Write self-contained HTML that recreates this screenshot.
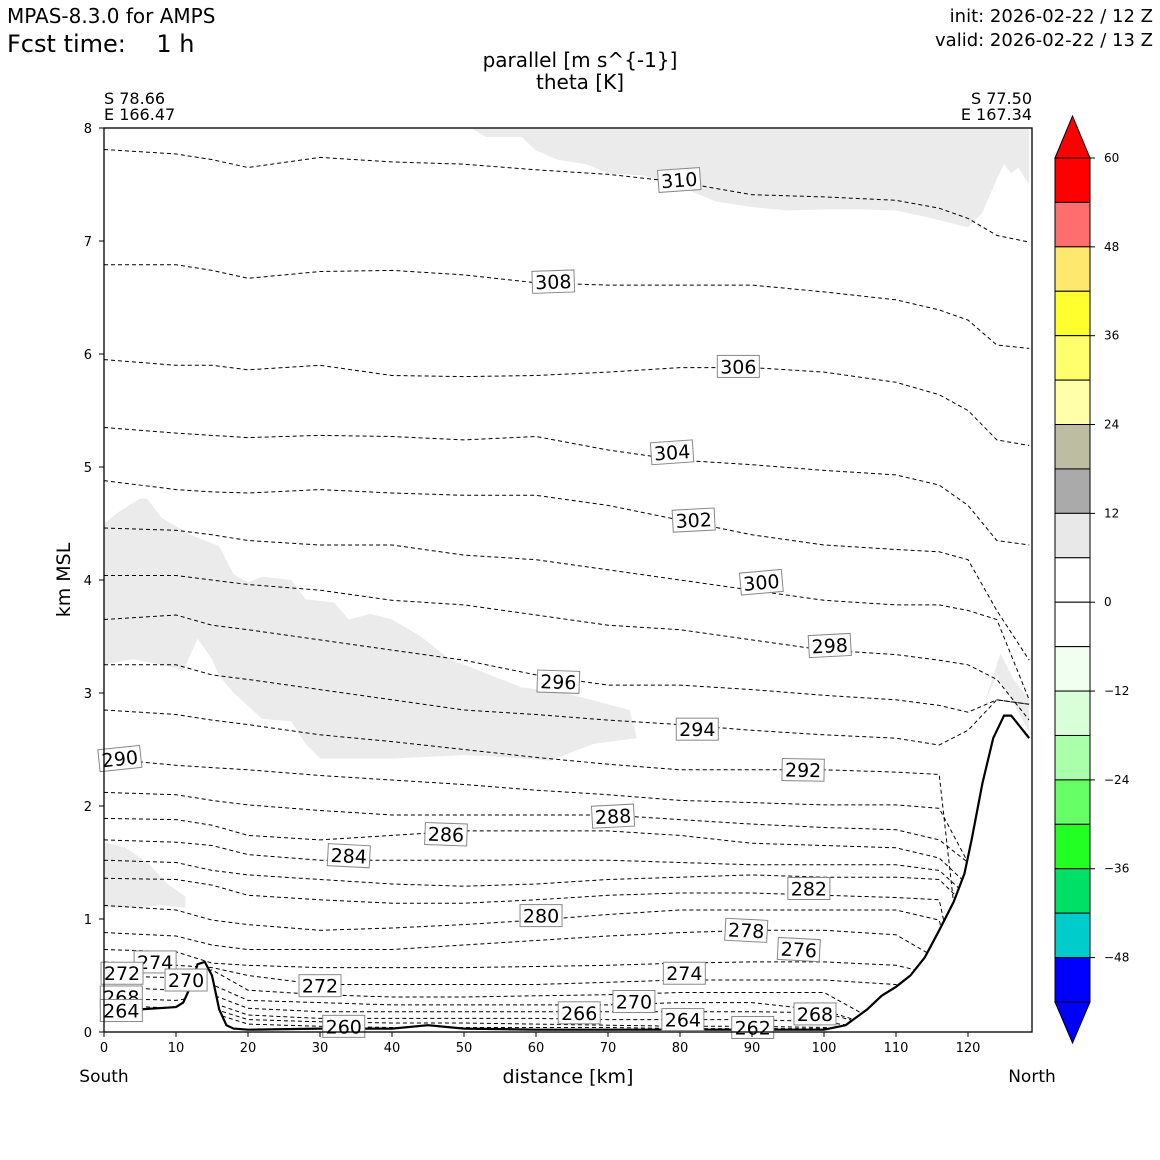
<!DOCTYPE html>
<html><head><meta charset="utf-8">
<style>
body{margin:0;background:#fff;}
svg{display:block;font-family:"DejaVu Sans","Liberation Sans",sans-serif;}
</style></head>
<body>
<svg id="chart" width="1160" height="1160" viewBox="0 0 1160 1160" xmlns="http://www.w3.org/2000/svg">
<rect width="1160" height="1160" fill="#fff"/>
<text x="7" y="23" font-size="20">MPAS-8.3.0 for AMPS</text>
<text x="7" y="52" font-size="24" xml:space="preserve">Fcst time:    1 h</text>
<text x="1153" y="22" font-size="18" text-anchor="end">init: 2026-02-22 / 12 Z</text>
<text x="1153" y="46" font-size="18" text-anchor="end">valid: 2026-02-22 / 13 Z</text>
<text x="580" y="67" font-size="20" text-anchor="middle">parallel [m s^{-1}]</text>
<text x="580" y="89" font-size="20" text-anchor="middle">theta [K]</text>
<text x="104" y="104" font-size="16">S 78.66</text>
<text x="104" y="120" font-size="16">E 166.47</text>
<text x="1032" y="104" font-size="16" text-anchor="end">S 77.50</text>
<text x="1032" y="120" font-size="16" text-anchor="end">E 167.34</text>
<text transform="translate(70,580) rotate(-90)" font-size="19" text-anchor="middle">km MSL</text>
<text x="568" y="1083" font-size="19" text-anchor="middle">distance [km]</text>
<text x="104" y="1082" font-size="17" text-anchor="middle">South</text>
<text x="1032" y="1082" font-size="17" text-anchor="middle">North</text>
<g id="plot"></g>
<g id="cbar"></g>
</svg>
<script>
// ---- data ----
const xKnots=[0,10,15,20,30,40,50,60,70,80,90,100,110,116,120,124,128.5];
const thetaLevels=[310,308,306,304,302,300,298,296,294,292,290,288,286,284,282,280,278,276,274,272,270,268,266,264,262,260];
const thetaHeights=[
[7.81,7.77,7.72,7.65,7.74,7.70,7.68,7.63,7.59,7.52,7.41,7.39,7.36,7.29,7.20,7.05,6.99],
[6.79,6.79,6.74,6.67,6.73,6.74,6.70,6.63,6.61,6.61,6.61,6.55,6.48,6.39,6.30,6.08,6.05],
[5.95,5.90,5.90,5.86,5.90,5.81,5.80,5.81,5.84,5.88,5.88,5.84,5.75,5.64,5.50,5.24,5.19],
[5.35,5.30,5.28,5.26,5.28,5.27,5.24,5.27,5.15,5.06,5.02,4.97,4.93,4.84,4.66,4.35,4.31],
[4.88,4.80,4.78,4.77,4.80,4.77,4.75,4.75,4.66,4.53,4.40,4.31,4.27,4.25,4.18,3.73,3.29],
[4.46,4.44,4.40,4.35,4.31,4.31,4.22,4.18,4.09,4.00,3.91,3.82,3.78,3.78,3.73,3.65,2.94],
[4.04,4.04,4.00,3.96,3.91,3.82,3.78,3.69,3.60,3.56,3.47,3.38,3.34,3.29,3.25,3.12,2.76],
[3.65,3.69,3.60,3.56,3.47,3.38,3.29,3.16,3.07,3.07,3.03,2.98,2.94,2.89,2.83,2.94,2.90],
[3.25,3.25,3.16,3.12,3.03,2.94,2.85,2.81,2.76,2.72,2.67,2.63,2.60,2.54,2.67,2.94,2.90],
[2.85,2.81,2.76,2.72,2.63,2.57,2.50,2.43,2.37,2.32,2.32,2.32,2.30,2.28,0,0,0],
[2.42,2.36,2.34,2.32,2.27,2.23,2.19,2.14,2.10,2.05,2.03,2.01,2.01,1.98,1.5,0,0],
[2.12,2.10,2.05,2.01,1.96,1.92,1.92,1.92,1.92,1.88,1.84,1.81,1.79,1.70,1.5,0,0],
[1.89,1.88,1.83,1.74,1.70,1.74,1.78,1.78,1.78,1.74,1.67,1.65,1.63,1.54,1.3,0,0],
[1.70,1.68,1.65,1.57,1.52,1.52,1.52,1.52,1.52,1.50,1.48,1.48,1.48,1.43,1.2,0,0],
[1.52,1.50,1.43,1.39,1.35,1.31,1.29,1.31,1.35,1.37,1.39,1.37,1.37,1.35,1.1,0,0],
[1.36,1.35,1.30,1.21,1.17,1.14,1.14,1.17,1.21,1.23,1.23,1.21,1.19,1.17,0,0,0],
[1.12,1.08,0.99,0.95,0.90,0.92,0.95,0.99,1.04,1.08,1.08,1.08,1.08,0.99,0,0,0],
[0.88,0.85,0.77,0.73,0.73,0.73,0.77,0.81,0.85,0.88,0.90,0.90,0.86,0.64,0,0,0],
[0.73,0.71,0.61,0.59,0.57,0.57,0.57,0.58,0.59,0.61,0.62,0.62,0.59,0.50,0,0,0],
[0.62,0.59,0.57,0.50,0.42,0.42,0.42,0.42,0.44,0.46,0.46,0.46,0.42,0,0,0,0],
[0.50,0.48,0.55,0.37,0.33,0.31,0.31,0.32,0.33,0.35,0.35,0.35,0,0,0,0,0],
[0.40,0.37,0.42,0.28,0.26,0.24,0.24,0.24,0.24,0.26,0.26,0.19,0,0,0,0,0],
[0.30,0.28,0.33,0.21,0.18,0.18,0.18,0.18,0.18,0.18,0.18,0.17,0,0,0,0,0],
[0.24,0.21,0.26,0.15,0.12,0.12,0.12,0.12,0.11,0.11,0.11,0.09,0,0,0,0,0],
[0.19,0.17,0.21,0.11,0.09,0.08,0.08,0.07,0.06,0.05,0.05,0.04,0,0,0,0,0],
[0.15,0.13,0.17,0.07,0.05,0.04,0.04,0.04,0.04,0.03,0.03,0.03,0,0,0,0,0]
];
const terrainX=[0,5,10,11,12,13,14,15,16,17,18,20,30,40,45,50,60,100,103,106,108,110,112,114,116,118,119.5,120.5,122,123.5,125,126,127,128.5];
const terrainZ=[0.16,0.2,0.22,0.26,0.4,0.6,0.62,0.5,0.2,0.06,0.03,0.02,0.03,0.03,0.06,0.03,0.02,0.02,0.06,0.2,0.32,0.4,0.5,0.66,0.9,1.15,1.4,1.7,2.2,2.6,2.8,2.8,2.72,2.6];
const shadeTopX=[51,53,58,60,63,67,70,75,80,85,90,95,100,105,110,115,120,122,124,125,126,127,128.5,128.5];
const shadeTopZ=[8,7.92,7.92,7.8,7.72,7.68,7.6,7.58,7.48,7.35,7.3,7.27,7.28,7.28,7.27,7.2,7.12,7.25,7.55,7.68,7.6,7.65,7.5,8];
const shadeMidX=[0,2,5,6,8,12,14,16,18,20,22,26,28,32,34,37,40,44,48,52,58,64,70,73,74,68,62,56,50,40,30,28,26,22,18,16,15,13,11,8,4,0];
const shadeMidZ=[4.5,4.6,4.72,4.72,4.55,4.4,4.35,4.3,4.05,3.98,4.03,4.0,3.83,3.8,3.65,3.7,3.65,3.5,3.3,3.2,3.05,3.0,2.9,2.85,2.6,2.55,2.4,2.43,2.45,2.42,2.42,2.55,2.75,2.77,3.0,3.15,3.3,3.48,3.2,3.25,3.3,3.25];
const shadeLowX=[0,3,6,9,11.3,11.3,8,4,0];
const shadeLowZ=[1.68,1.63,1.5,1.3,1.2,1.1,1.12,1.1,1.1];
const shadeRightX=[122.5,124,126,128.5,128.5,126.5,124.5];
const shadeRightZ=[2.95,3.15,2.95,2.65,2.95,3.1,3.35];
const labelText=["310","308","306","304","302","300","298","296","294","292","290","288","286","284","282","280","278","276","274","272","270","272","274","270","268","266","264","262","268","260","264"];
const labelX=[79.9,62.4,88.1,78.9,81.9,91.3,100.8,63.1,82.4,97.1,2.2,70.7,47.5,34.0,97.9,60.7,89.2,96.5,7.1,2.5,11.4,30,80.6,73.6,2.4,66,80.4,90.1,98.75,33.3,2.4];
const labelZ=[7.54,6.64,5.89,5.13,4.53,3.98,3.42,3.10,2.68,2.32,2.42,1.91,1.75,1.56,1.27,1.03,0.90,0.73,0.62,0.52,0.46,0.41,0.52,0.27,0.31,0.17,0.11,0.04,0.16,0.05,0.19];
const labelRot=[4,2,0,4,3,5,3,-2,0,-1,6,3,-2,-3,0,0,-3,-3,0,0,0,0,0,0,0,0,0,0,0,0,0];
const xTicks=[0,10,20,30,40,50,60,70,80,90,100,110,120];
const yTicks=[0,1,2,3,4,5,6,7,8];
const cbLevels=[60,54,48,42,36,30,24,18,12,6,0,-6,-12,-18,-24,-30,-36,-42,-48,-54];
const cbColors=["#ff0000","#ff6e6e","#ffe86e","#ffff2e","#ffff6e","#ffffaa","#bdbda2","#aaaaaa","#e8e8e8","#ffffff","#ffffff","#f0fff0","#d8ffd8","#aaffaa","#66ff66","#22ff22","#00e066","#00cccc","#0000ff"];
const cbTicks=[60,48,36,24,12,0,-12,-24,-36,-48];

// ---- axes ----
const X0=104,X1=1032,Y0=1032,Y1=128;
const sx=v=>X0+v*7.2;
const sy=v=>Y0-v*(Y0-Y1)/8;
const NS='http://www.w3.org/2000/svg';
function mk(tag,attrs,parent){const e=document.createElementNS(NS,tag);for(const k in attrs)e.setAttribute(k,attrs[k]);parent.appendChild(e);return e;}
const plot=document.getElementById('plot');
const defs=mk('defs',{},plot);
const cp=mk('clipPath',{id:'above'},defs);
let cpd='M'+X0+','+Y1;
terrainX.forEach((x,i)=>cpd+=' L'+sx(x)+','+sy(terrainZ[i]));
cpd+=' L'+X1+','+Y1+' Z';
mk('path',{d:cpd},cp);
const cp2=mk('clipPath',{id:'box'},defs);
mk('rect',{x:X0,y:Y1,width:X1-X0,height:Y0-Y1},cp2);

function poly(xs,zs){return xs.map((x,i)=>(i?'L':'M')+sx(x).toFixed(1)+','+sy(zs[i]).toFixed(1)).join(' ');}
const shadeG=mk('g',{'clip-path':'url(#box)'},plot);
[[shadeTopX,shadeTopZ,'shade-top'],[shadeMidX,shadeMidZ,'shade-middle'],[shadeLowX,shadeLowZ,'shade-lower-left'],[shadeRightX,shadeRightZ,'shade-right']].forEach(s=>{
  const p=mk('path',{d:poly(s[0],s[1])+' Z',fill:'#ebebeb'},shadeG);
  
  
});

const contG=mk('g',{'clip-path':'url(#above)'},plot);
thetaLevels.forEach((lv,i)=>{
  const p=mk('path',{d:poly(xKnots,thetaHeights[i]),fill:'none',stroke:'#000','stroke-width':'1','stroke-dasharray':'4,3'},contG);
  
  
});
const terr=mk('path',{d:poly(terrainX,terrainZ),fill:'none',stroke:'#000','stroke-width':'2.2'},plot);



labelText.forEach((t,i)=>{
  const cx=sx(labelX[i]),cy=sy(labelZ[i]);
  const g=mk('g',{transform:'translate('+cx+','+cy+') rotate('+(-labelRot[i])+')'},plot);
  
  
  const w=t.length*12+6;
  mk('rect',{x:-w/2,y:-11,width:w,height:22,fill:'#fff',stroke:'#888','stroke-width':'1'},g);
  mk('text',{x:0,y:7,'font-size':'19','text-anchor':'middle'},g).textContent=t;
});

const frame=mk('rect',{x:X0,y:Y1,width:X1-X0,height:Y0-Y1,fill:'none',stroke:'#000','stroke-width':'1.3'},plot);


xTicks.forEach(v=>{
  const g=mk('g',{},plot);
  
  
  mk('line',{x1:sx(v),x2:sx(v),y1:Y0,y2:Y0+5,stroke:'#000'},g);
  mk('text',{x:sx(v),y:Y0+20,'font-size':'13','text-anchor':'middle'},g).textContent=v;
});
yTicks.forEach(v=>{
  const g=mk('g',{},plot);
  
  
  mk('line',{x1:X0-5,x2:X0,y1:sy(v),y2:sy(v),stroke:'#000'},g);
  mk('text',{x:X0-12,y:sy(v)+5,'font-size':'13','text-anchor':'end'},g).textContent=v;
});

// ---- colorbar ----
const cb=document.getElementById('cbar');


const CX0=1055,CX1=1090,CT=158,CB=1002;
const cy=v=>CT+(60-v)*(CB-CT)/114;
mk('path',{d:'M'+CX0+','+CT+' L'+(CX0+CX1)/2+',116 L'+CX1+','+CT+' Z',fill:'#ff0000',stroke:'#000'},cb);
mk('path',{d:'M'+CX0+','+CB+' L'+(CX0+CX1)/2+',1043 L'+CX1+','+CB+' Z',fill:'#0000ff',stroke:'#000'},cb);
cbColors.forEach((c,i)=>{
  const r=mk('rect',{x:CX0,y:cy(cbLevels[i]),width:CX1-CX0,height:cy(cbLevels[i+1])-cy(cbLevels[i]),fill:c,stroke:'#000','stroke-width':'1'},cb);
  
  
});
cbTicks.forEach(v=>{
  mk('line',{x1:CX1,x2:CX1+5,y1:cy(v),y2:cy(v),stroke:'#000'},cb);
  const t=mk('text',{x:CX1+14,y:cy(v)+4,'font-size':'12'},cb);
  t.textContent=(v<0?'\u2212'+(-v):''+v);
  
  
});
</script>
</body></html>
